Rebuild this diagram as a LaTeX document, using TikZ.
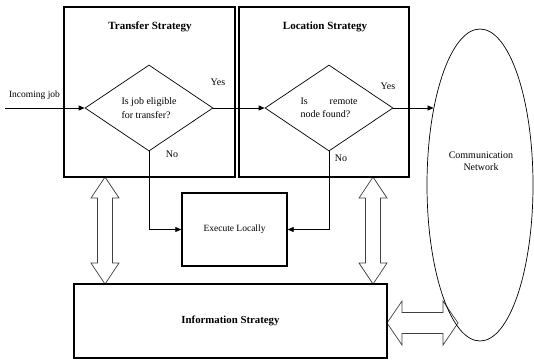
\documentclass[tikz,border=0pt]{standalone}
\usepackage{fontspec}
\setmainfont{Liberation Serif}
\usetikzlibrary{shapes.geometric,arrows.meta}
\newcommand\myvdbl[3]{%
  \draw[blk] (#1,#2) -- (#1+14,#2+21) -- (#1+7.5,#2+21) -- (#1+7.5,#3-21) -- (#1+14,#3-21) -- (#1,#3)
    -- (#1-14,#3-21) -- (#1-7.5,#3-21) -- (#1-7.5,#2+21) -- (#1-14,#2+21) -- cycle;}
\newcommand\myhdbl[3]{%
  \draw[blk] (#2,#1) -- (#2+15,#1-22) -- (#2+15,#1-10.5) -- (#3-15,#1-10.5) -- (#3-15,#1-22) -- (#3,#1)
    -- (#3-15,#1+22) -- (#3-15,#1+10.5) -- (#2+15,#1+10.5) -- (#2+15,#1+22) -- cycle;}
\begin{document}
\begin{tikzpicture}[x=1pt,y=-1pt,
  box/.style={draw, line width=1.3pt, inner sep=0pt},
  dia/.style={draw, diamond, line width=0.7pt, minimum width=128pt, minimum height=86pt, inner sep=0pt, align=left, font=\fontsize{10}{13.5}\selectfont},
  lbl/.style={font=\fontsize{10}{12}\selectfont, inner sep=0pt},
  ttl/.style={font=\fontsize{11}{13}\selectfont\bfseries, inner sep=0pt},
  conn/.style={line width=0.7pt, -{Triangle[length=6pt,width=5pt]}},
  blk/.style={draw=black!75, line width=0.7pt, fill=white, line join=miter}]
\useasboundingbox (0,0) rectangle (534,360);
% block arrows
\myvdbl{105}{177}{284}
\myvdbl{373}{177}{284}
\myhdbl{323}{387}{458}
% boxes
\node[box, minimum width=171pt, minimum height=170pt] (tr) at (149.5,92) {};
\node[ttl] (trt) at (150,27) {Transfer Strategy};
\node[box, minimum width=170pt, minimum height=170pt] (lo) at (324,92) {};
\node[ttl] (lot) at (325,27) {Location Strategy};
\node[dia] (d1) at (149,108) {Is job eligible\\for transfer?};
\node[dia] (d2) at (329,108) {\makebox[57pt][s]{Is\hfill remote}\\node found?};
\node[box, minimum width=105pt, minimum height=73pt, font=\fontsize{9.5}{11}\selectfont] (ex) at (234.5,229.5) {Execute Locally};
\node[box, minimum width=313pt, minimum height=74pt, font=\fontsize{10.8}{13}\selectfont\bfseries] (inf) at (230.5,321) {Information Strategy};
\node[draw, ellipse, line width=0.7pt, minimum width=106pt, minimum height=312pt, inner sep=0pt] (net) at (480,185) {};
\node[lbl, align=center] (nett) at (481,161) {Communication\\Network};
% connectors
\coordinate (in) at (5,108);
\draw[conn] (in) -- (d1.west);
\node[lbl, font=\fontsize{9.5}{11}\selectfont] (inl) at (34.5,95) {Incoming job};
\draw[conn] (d1.east) -- (d2.west);
\node[lbl] (y1) at (218,82) {Yes};
\draw[conn] (d2.east) -- (d2.east -| net.121);
\node[lbl] (y2) at (388,86) {Yes};
\draw[conn] (d1.south) |- (ex.west);
\draw[conn] (d2.south) |- (ex.east);
\node[lbl] (n1) at (172,154) {No};
\node[lbl] (n2) at (341,158) {No};
\end{tikzpicture}
\end{document}
